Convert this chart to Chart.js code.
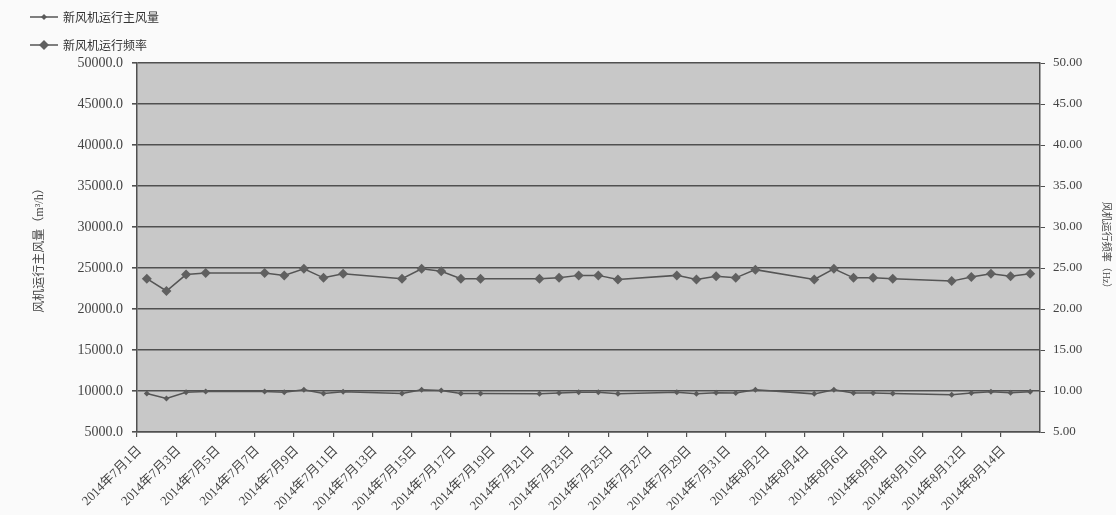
<!DOCTYPE html>
<html>
<head>
<meta charset="utf-8">
<script src="https://cdn.jsdelivr.net/npm/chart.js@4/dist/chart.umd.min.js"></script>
<style>
  body { margin: 0; background: #fafafa; }
  #wrap { width: 1116px; height: 515px; }
</style>
</head>
<body>
<div id="wrap"><canvas id="fanChart" width="1116" height="515"></canvas></div>
<script>
// daily categories, 2014-07-01 .. 2014-08-15 (weekends have no reading)
const days = [
    '2014年7月1日', '2014年7月2日', '2014年7月3日', '2014年7月4日', '2014年7月5日', '2014年7月6日',
    '2014年7月7日', '2014年7月8日', '2014年7月9日', '2014年7月10日', '2014年7月11日', '2014年7月12日',
    '2014年7月13日', '2014年7月14日', '2014年7月15日', '2014年7月16日', '2014年7月17日', '2014年7月18日',
    '2014年7月19日', '2014年7月20日', '2014年7月21日', '2014年7月22日', '2014年7月23日', '2014年7月24日',
    '2014年7月25日', '2014年7月26日', '2014年7月27日', '2014年7月28日', '2014年7月29日', '2014年7月30日',
    '2014年7月31日', '2014年8月1日', '2014年8月2日', '2014年8月3日', '2014年8月4日', '2014年8月5日',
    '2014年8月6日', '2014年8月7日', '2014年8月8日', '2014年8月9日', '2014年8月10日', '2014年8月11日',
    '2014年8月12日', '2014年8月13日', '2014年8月14日', '2014年8月15日'
];

// 新风机运行主风量 (m3/h), left axis
const airflow = [
    9700, 9100, 9850, 9950, null, null,
    9950, 9850, 10150, 9700, 9900, null,
    null, 9700, 10150, 10050, 9700, 9700,
    null, null, 9650, 9750, 9850, 9850,
    9650, null, null, 9850, 9650, 9800,
    9750, 10150, null, null, 9650, 10150,
    9750, 9750, 9700, null, null, 9550,
    9750, 9900, 9800, 9900
];

// 新风机运行频率 (Hz), right axis
const frequency = [
    23.7, 22.2, 24.2, 24.4, null, null,
    24.4, 24.1, 24.9, 23.8, 24.3, null,
    null, 23.7, 24.9, 24.6, 23.7, 23.7,
    null, null, 23.7, 23.8, 24.1, 24.1,
    23.6, null, null, 24.1, 23.6, 24.0,
    23.8, 24.8, null, null, 23.6, 24.9,
    23.8, 23.8, 23.7, null, null, 23.4,
    23.9, 24.3, 24.0, 24.3
];

const INK = '#505050';
const SERIF = '"Liberation Serif", "Noto Sans CJK SC", serif';

// grey plot area
const plotBackground = {
    id: 'plotBackground',
    beforeDraw(chart) {
        const { ctx, chartArea: a } = chart;
        ctx.save();
        ctx.fillStyle = '#c8c8c8';
        ctx.fillRect(a.left, a.top, a.right - a.left, a.bottom - a.top);
        ctx.restore();
    }
};

// stacked legend in the top-left corner
const stackedLegend = {
    id: 'stackedLegend',
    afterDraw(chart) {
        const ctx = chart.ctx;
        ctx.save();
        chart.data.datasets.forEach((ds, i) => {
            const y = 17 + i * 28;
            ctx.strokeStyle = ds.borderColor;
            ctx.lineWidth = 1.5;
            ctx.beginPath();
            ctx.moveTo(30, y);
            ctx.lineTo(58, y);
            ctx.stroke();
            const r = ds.pointRadius;
            ctx.fillStyle = ds.pointBackgroundColor;
            ctx.beginPath();
            ctx.moveTo(44, y - r);
            ctx.lineTo(44 + r, y);
            ctx.lineTo(44, y + r);
            ctx.lineTo(44 - r, y);
            ctx.closePath();
            ctx.fill();
            ctx.fillStyle = '#333';
            ctx.font = '12px "Noto Sans CJK SC", sans-serif';
            ctx.textBaseline = 'middle';
            ctx.fillText(ds.label, 63, y);
        });
        ctx.restore();
    }
};

const ctx = document.getElementById('fanChart').getContext('2d');

new Chart(ctx, {
    type: 'line',
    data: {
        labels: days,
        datasets: [
            {
                label: '新风机运行主风量',
                data: airflow,
                yAxisID: 'y',
                borderColor: '#555555',
                borderWidth: 1.5,
                pointStyle: 'rectRot',
                pointRadius: 3,
                pointBackgroundColor: '#5a5a5a',
                pointBorderWidth: 0,
                spanGaps: true,
                tension: 0
            },
            {
                label: '新风机运行频率',
                data: frequency,
                yAxisID: 'y1',
                borderColor: '#555555',
                borderWidth: 1.5,
                pointStyle: 'rectRot',
                pointRadius: 5,
                pointBackgroundColor: '#606060',
                pointBorderWidth: 0,
                spanGaps: true,
                tension: 0
            }
        ]
    },
    options: {
        responsive: false,
        animation: false,
        devicePixelRatio: 1,
        layout: { padding: { top: 63, left: 0, right: 0, bottom: 0 } },
        plugins: {
            legend: { display: false },
            tooltip: { enabled: false }
        },
        scales: {
            x: {
                type: 'category',
                offset: true,
                afterFit(scale) { scale.height = 83; },
                grid: {
                    offset: true,
                    drawOnChartArea: false,
                    drawTicks: true,
                    tickLength: 5,
                    tickColor: c => (c.index % 2 === 0 ? INK : 'rgba(0,0,0,0)'),
                    lineWidth: 1.2
                },
                border: { display: true, color: INK, width: 1.5 },
                ticks: {
                    autoSkip: false,
                    minRotation: 45,
                    maxRotation: 45,
                    padding: 6,
                    labelOffset: -7,
                    color: '#444',
                    font: { family: SERIF, size: 13 },
                    callback(val, idx) {
                        return idx % 2 === 0 ? this.getLabelForValue(val) : '';
                    }
                }
            },
            y: {
                position: 'left',
                min: 5000,
                max: 50000,
                afterFit(scale) { scale.width = 137; },
                grid: {
                    color: INK,
                    lineWidth: 1.6,
                    tickLength: 5
                },
                border: { display: true, color: INK, width: 1.5 },
                ticks: {
                    stepSize: 5000,
                    padding: 9,
                    color: '#444',
                    font: { family: SERIF, size: 14 },
                    callback: v => v.toFixed(1)
                },
                title: {
                    display: true,
                    text: '风机运行主风量（m³/h）',
                    color: '#444',
                    padding: { top: 33, bottom: 0 },
                    font: { family: SERIF, size: 12 }
                }
            },
            y1: {
                position: 'right',
                min: 5,
                max: 50,
                afterFit(scale) { scale.width = 76; },
                grid: {
                    drawOnChartArea: false,
                    color: INK,
                    tickLength: 5
                },
                border: { display: true, color: INK, width: 1.5 },
                ticks: {
                    stepSize: 5,
                    padding: 8,
                    color: '#444',
                    font: { family: SERIF, size: 13 },
                    callback: v => v.toFixed(2)
                },
                title: {
                    display: true,
                    text: '风机运行频率（Hz）',
                    color: '#444',
                    padding: { top: 4, bottom: 0 },
                    font: { family: SERIF, size: 10 }
                }
            }
        }
    },
    plugins: [plotBackground, stackedLegend]
});
</script>
</body>
</html>
